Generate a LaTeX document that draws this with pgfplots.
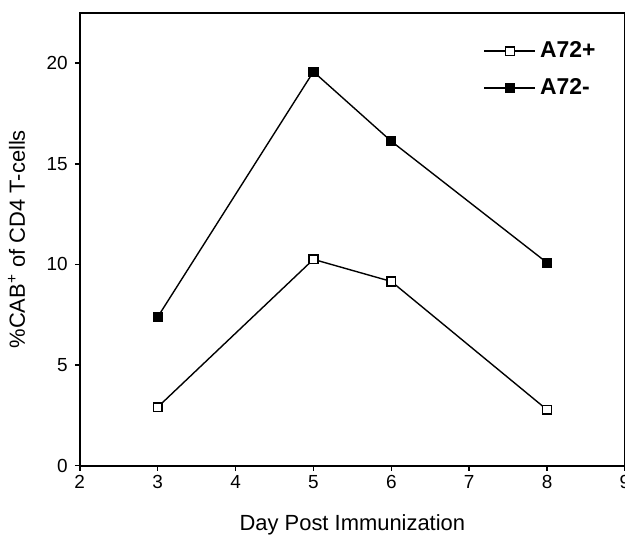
\documentclass[border=0pt]{standalone}
\usepackage{pgfplots}
\pgfplotsset{compat=1.18}
\usepackage{fontspec}
\setmainfont{Liberation Sans}

\begin{document}
\begin{tikzpicture}
  \begin{axis}[
      scale only axis,
      width=273.5pt, height=227pt,
      xmin=2, xmax=9, ymin=0, ymax=22.5,
      xtick={2,3,...,9},
      ytick={0,5,10,15,20},
      tick align=outside,
      xtick pos=left, ytick pos=left,
      major tick length=2.5pt,
      axis line style={line width=1pt},
      tick style={line width=0.8pt, black},
      /pgf/number format/assume math mode=true,
      ticklabel style={font=\fontsize{9.5}{11}\selectfont},
      xticklabel style={yshift=1pt},
      xlabel={Day Post Immunization},
      ylabel={\%CAB\textsuperscript{+} of CD4 T-cells},
      label style={font=\fontsize{11}{13}\selectfont},
      xlabel style={at={(rel axis cs:0.5,0)}, yshift=-21pt},
      ylabel style={yshift=4pt},
      legend style={
        at={(0.965,0.955)}, anchor=north east,
        draw=none, fill=none,
        font=\bfseries\fontsize{11.5}{13}\selectfont,
        row sep=5pt,
      },
      legend cell align=left,
      legend image code/.code={
        \draw[mark repeat=2, mark phase=2]
          plot coordinates {(0cm,0cm) (0.45cm,0cm) (0.9cm,0cm)};
      },
  ]
    \addplot[black, line width=0.7pt, mark=square*,
             mark options={fill=white, line width=0.7pt}, mark size=2.2pt]
      coordinates {(3,2.9) (5,10.25) (6,9.15) (8,2.77)};
    \addplot[black, line width=0.7pt, mark=square*,
             mark options={fill=black}, mark size=2.2pt]
      coordinates {(3,7.38) (5,19.58) (6,16.12) (8,10.08)};
    \legend{A72+, A72-}
    \coordinate (bl) at (rel axis cs:0,0);
    \coordinate (tr) at (rel axis cs:1,1);
  \end{axis}
  \pgfresetboundingbox
  \path[use as bounding box] (bl) ++(-40pt,-34.5pt) coordinate (p1)
    (tr) ++(-1pt,6.5pt) coordinate (p2);
  \path[use as bounding box] (p1) rectangle (p2);
\end{tikzpicture}
\end{document}
